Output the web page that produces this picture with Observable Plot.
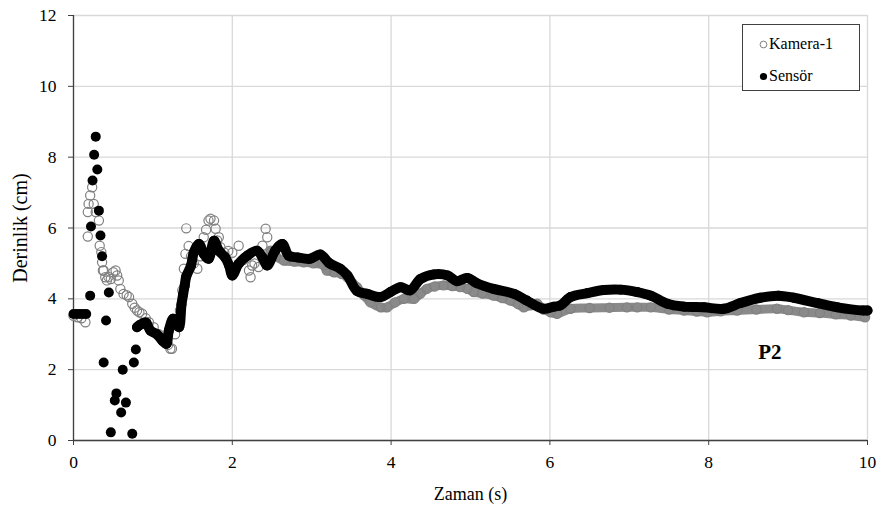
<!DOCTYPE html>
<html>
<head>
<meta charset="utf-8">
<script src="https://cdn.jsdelivr.net/npm/d3@7"></script>
<script src="https://cdn.jsdelivr.net/npm/@observablehq/plot@0.6"></script>
<style>
  html, body { margin: 0; padding: 0; background: #fff; }
  #wrap { position: relative; width: 885px; height: 511px; font-family: "Liberation Serif", serif; }
  #legend { position: absolute; left: 742px; top: 24px; width: 116px; height: 65px; border: 1px solid #404040; background: #fff; font-size: 16px; color: #000; }
  #legend .item { position: absolute; left: 16px; height: 18px; line-height: 18px; display: flex; align-items: center; white-space: nowrap; }
  #legend svg { margin-right: 1px; }
</style>
</head>
<body>
<div id="wrap">
  <div id="chart"></div>
  <div id="legend">
    <div class="item" style="top:10px"><svg width="9" height="9"><circle cx="4.5" cy="4.5" r="3.4" fill="none" stroke="#808080" stroke-width="1"/></svg>Kamera-1</div>
    <div class="item" style="top:42px"><svg width="9" height="9"><circle cx="4.5" cy="4.5" r="3.6" fill="#000"/></svg>Sensör</div>
  </div>
</div>
<script>
// Kamera-1 (open grey circles)
const cameraT = [0.00,0.05,0.10,0.15,0.18,0.18,0.19,0.21,0.235,0.255,0.28,0.32,0.33,0.35,0.36,0.37,0.38,0.40,0.42,0.44,0.47,0.50,0.53,0.55,0.57,0.59,0.63,0.67,0.70,0.74,0.77,0.80,0.83,0.865,0.91,0.95,1.01,1.07,1.14,1.19,1.22,1.24,1.28,1.31,1.34,1.37,1.39,1.41,1.42,1.45,1.48,1.515,1.56,1.60,1.64,1.67,1.70,1.725,1.77,1.79,1.81,1.83,1.85,1.90,1.95,2.00,2.08,2.14,2.21,2.23,2.25,2.28,2.33,2.38,2.42,2.44,2.48,2.55,2.65,2.78,2.90,3.02,3.15,3.19,3.28,3.38,3.45,3.57,3.66,3.74,3.87,3.95,4.05,4.16,4.29,4.37,4.45,4.55,4.66,4.77,4.87,4.96,5.04,5.15,5.29,5.40,5.50,5.60,5.67,5.76,5.84,5.92,6.01,6.09,6.26,6.50,6.75,6.97,7.10,7.27,7.50,7.69,7.85,7.98,8.15,8.36,8.60,8.86,9.00,9.20,9.40,9.60,9.79,9.97];
const cameraY = [3.52,3.48,3.45,3.34,5.76,6.45,6.68,6.92,7.15,6.68,6.45,6.21,5.50,5.32,5.03,4.80,4.80,4.61,4.52,4.62,4.56,4.75,4.80,4.66,4.52,4.28,4.14,4.10,4.05,3.86,3.75,3.67,3.62,3.58,3.45,3.34,3.20,3.01,2.82,2.70,2.59,2.59,3.00,3.30,3.67,4.24,4.85,5.27,5.99,5.49,5.20,5.00,4.85,5.20,5.74,5.95,6.21,6.26,6.21,5.98,5.65,5.74,5.46,5.30,5.35,5.30,5.50,5.10,4.80,4.61,4.94,5.00,4.90,5.50,5.98,5.74,5.36,5.20,5.08,5.05,5.03,5.00,4.95,4.80,4.75,4.70,4.61,4.33,4.10,3.90,3.76,3.76,3.90,4.00,4.00,4.15,4.28,4.35,4.38,4.36,4.33,4.28,4.19,4.15,4.09,4.02,3.95,3.85,3.76,3.82,3.86,3.70,3.62,3.58,3.72,3.74,3.75,3.76,3.76,3.76,3.70,3.67,3.64,3.62,3.65,3.67,3.70,3.72,3.68,3.62,3.60,3.56,3.53,3.48];

// Sensör (filled black circles)
const sensorT = [0.00,0.04,0.08,0.12,0.16,0.21,0.22,0.24,0.26,0.28,0.30,0.32,0.34,0.36,0.38,0.41,0.445,0.47,0.52,0.54,0.60,0.62,0.66,0.74,0.76,0.785,0.80,0.84,0.91,0.97,1.05,1.12,1.17,1.20,1.255,1.30,1.33,1.36,1.38,1.40,1.42,1.48,1.515,1.58,1.64,1.70,1.77,1.83,1.91,1.96,2.00,2.08,2.19,2.31,2.38,2.44,2.54,2.63,2.71,2.82,2.98,3.11,3.22,3.36,3.45,3.57,3.70,3.87,3.99,4.12,4.24,4.37,4.54,4.71,4.83,4.96,5.08,5.29,5.55,5.71,5.92,6.05,6.13,6.26,6.47,6.68,6.89,7.10,7.27,7.48,7.69,7.94,8.19,8.40,8.65,8.88,9.07,9.37,9.62,9.95,10.00];
const sensorY = [3.57,3.57,3.57,3.57,3.57,4.09,6.04,7.34,8.07,8.58,7.65,6.49,5.79,5.20,2.20,3.39,4.18,0.23,1.13,1.33,0.79,2.00,1.07,0.19,2.20,2.57,3.20,3.27,3.33,3.10,3.00,2.82,2.73,3.10,3.44,3.30,3.20,3.84,4.12,4.37,4.63,4.94,5.31,5.55,5.27,5.13,5.64,5.36,5.17,4.94,4.66,4.99,5.22,5.36,5.17,4.94,5.36,5.55,5.22,5.17,5.13,5.25,5.01,4.85,4.66,4.22,4.14,4.05,4.19,4.33,4.24,4.56,4.69,4.66,4.50,4.59,4.44,4.28,4.14,3.95,3.72,3.78,3.81,4.05,4.16,4.25,4.26,4.19,4.09,3.86,3.78,3.76,3.72,3.88,4.03,4.09,4.03,3.88,3.76,3.67,3.67];

// Tick values, axis titles and annotation
const xTicks = [0, 2, 4, 6, 8, 10];
const yTicks = [0, 2, 4, 6, 8, 10, 12];
const xTitle = "Zaman (s)";
const yTitle = "Derinlik (cm)";
const annotLabel = ["P2"];
const annotT = [8.77];
const annotY = [2.48];

const camera = cameraT.map((t, i) => ({t, y: cameraY[i]}));
const sensor = sensorT.map((t, i) => ({t, y: sensorY[i]}));
const annot = annotLabel.map((label, i) => ({label, t: annotT[i], y: annotY[i]}));

const serif = "'Liberation Serif', serif";

const chart = Plot.plot({
  width: 885,
  height: 511,
  marginLeft: 73,
  marginRight: 18,
  marginTop: 15,
  marginBottom: 71,
  style: {fontFamily: serif, fontSize: "17px", color: "#000", background: "#fff", overflow: "visible"},
  x: {domain: [0, 10]},
  y: {domain: [0, 12]},
  marks: [
    Plot.gridX(xTicks, {stroke: "#d9d9d9", strokeOpacity: 1, strokeWidth: 1.3}),
    Plot.gridY(yTicks, {stroke: "#d9d9d9", strokeOpacity: 1, strokeWidth: 1.3}),
    Plot.ruleX([0], {stroke: "#404040", strokeWidth: 1.3}),
    Plot.ruleY([0], {stroke: "#404040", strokeWidth: 1.3}),
    Plot.axisX(xTicks, {tickSize: 5, tickPadding: 10, stroke: "#404040", label: null, fontSize: 17.5}),
    Plot.axisY(yTicks, {tickSize: 5, tickPadding: 12, stroke: "#404040", label: null, fontSize: 17.5}),
    Plot.text([xTitle], {frameAnchor: "bottom", dy: 54, lineAnchor: "middle", textAnchor: "middle", fontSize: 18, fill: "#000"}),
    Plot.text([yTitle], {frameAnchor: "left", dx: -53, rotate: -90, textAnchor: "middle", lineAnchor: "middle", fontSize: 20, fill: "#000"}),
    Plot.line(camera.filter(d => d.t >= 2.48), {x: "t", y: "y", stroke: "#8a8a8a", strokeWidth: 9, curve: "catmull-rom", strokeLinecap: "round", strokeLinejoin: "round"}),
    Plot.dot(camera, {x: "t", y: "y", r: 4.6, stroke: "#808080", fill: "none", strokeWidth: 1.2}),
    Plot.line(sensor.filter(d => d.t >= 0.8), {x: "t", y: "y", stroke: "#000", strokeWidth: 10, curve: "catmull-rom", strokeLinecap: "round", strokeLinejoin: "round"}),
    Plot.dot(sensor, {x: "t", y: "y", r: 5, fill: "#000"}),
    Plot.text(annot, {x: "t", y: "y", text: "label", fontWeight: "bold", fontSize: 21, fill: "#000"})
  ]
});
document.getElementById("chart").appendChild(chart);
</script>
</body>
</html>
